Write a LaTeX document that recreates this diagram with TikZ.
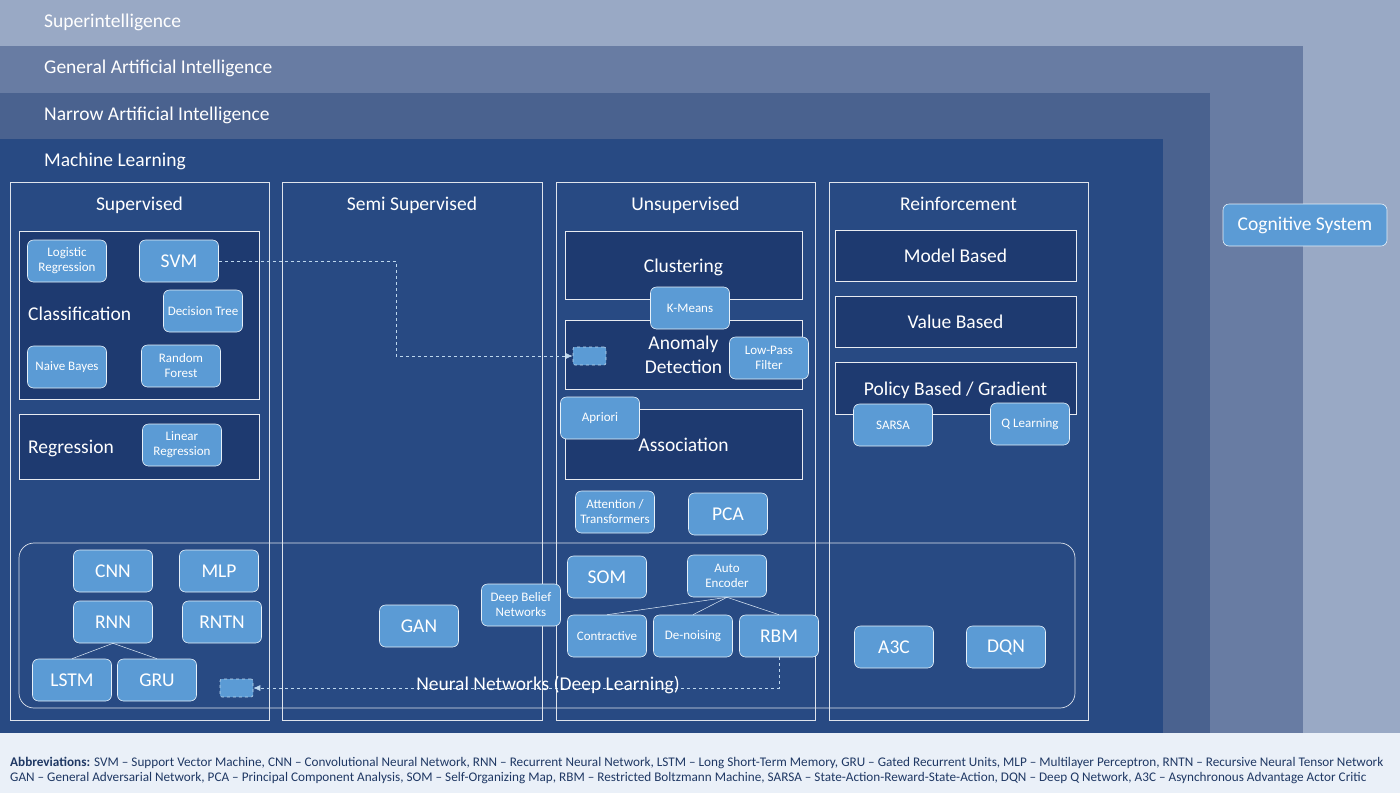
\documentclass[tikz,border=0pt]{standalone}
\usepackage{fontspec}
\setmainfont{Carlito}
\usetikzlibrary{positioning,arrows.meta}

\definecolor{superbg}{HTML}{99A9C5}
\definecolor{generalbg}{HTML}{687CA3}
\definecolor{narrowbg}{HTML}{4A628F}
\definecolor{mlbg}{HTML}{284A83}
\definecolor{boxbg}{HTML}{1E3A70}
\definecolor{algoblue}{HTML}{5B9BD5}
\definecolor{abbrbg}{HTML}{EAF0F8}
\definecolor{abbrtext}{HTML}{1F3864}
\definecolor{linkblue}{HTML}{BDD7EE}

\tikzset{
    bigfont/.style={font=\fontsize{19.5}{24}\selectfont},
    algo/.style={draw=white!85!algoblue, line width=0.6pt, fill=algoblue, rounded corners=6pt,
        minimum width=79pt, minimum height=42pt, inner sep=1pt, align=center, text=white,
        font=\fontsize{13}{15}\selectfont},
    algobig/.style={algo, bigfont},
    slot/.style={draw=linkblue, dashed, line width=0.6pt, fill=algoblue, rounded corners=2pt,
        minimum width=33pt, minimum height=18pt, inner sep=0pt},
    grouplabel/.style={text=white, bigfont, inner sep=0pt},
    column/.style={draw=white!85!mlbg, line width=0.7pt, fill=mlbg},
    groupbox/.style={draw=white!90!boxbg, line width=0.7pt, fill=boxbg},
    branch/.style={draw=white!80!algoblue, line width=0.5pt},
    link/.style={draw=linkblue, dashed, line width=0.7pt, -{Latex[length=7pt,width=6pt]}},
}

\begin{document}
\begin{tikzpicture}[x=1pt,y=-1pt]
    \useasboundingbox (0,0) rectangle (1400,793);

    % nested bands
    \fill[superbg] (0,0) rectangle (1400,733);
    \fill[generalbg] (0,46) rectangle (1303,733);
    \fill[narrowbg] (0,93) rectangle (1210,733);
    \fill[mlbg] (0,139) rectangle (1163,733);
    \fill[abbrbg] (0,733) rectangle (1400,793);

    \node[grouplabel, anchor=base west] (super)   at (44,27)  {Superintelligence};
    \node[grouplabel, anchor=base west] (general) at (44,73)  {General Artificial Intelligence};
    \node[grouplabel, anchor=base west] (narrow)  at (44,120) {Narrow Artificial Intelligence};
    \node[grouplabel, anchor=base west] (ml)      at (44,166) {Machine Learning};

    \node[algobig, minimum width=164pt] (cognitive) at (1305,225) {Cognitive System};

    % columns
    \draw[column] (10,182) rectangle (269,720);
    \draw[column] (282,182) rectangle (542,720);
    \draw[column] (556,182) rectangle (815,720);
    \draw[column] (829,182) rectangle (1088,720);

    \node[grouplabel, anchor=base] (supervised) at (139.5,210) {Supervised};
    \node[grouplabel, anchor=base] (semi)       at (412,210)   {Semi Supervised};
    \node[grouplabel, anchor=base] (unsup)      at (685.5,210) {Unsupervised};
    \node[grouplabel, anchor=base] (reinf)      at (958.5,210) {Reinforcement};

    % supervised
    \draw[groupbox] (19,231) rectangle (259,399);
    \node[grouplabel, anchor=base west] (classif) at (28,320) {Classification};
    \node[algo]    (logreg)  at (67,261)  {Logistic\\Regression};
    \node[algobig] (svm)     at (179,261) {SVM};
    \node[algo]    (dtree)   at (203,311) {Decision Tree};
    \node[algo]    (bayes)   at (67,367)  {Naive Bayes};
    \node[algo]    (forest)  at (181,366) {Random\\Forest};

    \draw[groupbox] (19,414) rectangle (259,479);
    \node[grouplabel, anchor=base west] (regress) at (28,453) {Regression};
    \node[algo]    (linreg)  at (182,445) {Linear\\Regression};

    % unsupervised
    \draw[groupbox] (565,231) rectangle (802,299);
    \node[grouplabel, anchor=base] (cluster) at (683.5,272) {Clustering};
    \draw[groupbox] (565,320) rectangle (802,389);
    \node[grouplabel, align=center] (anomaly) at (683.5,355) {Anomaly\\Detection};
    \draw[groupbox] (565,409) rectangle (802,479);
    \node[grouplabel, anchor=base] (assoc) at (683.5,451) {Association};

    \node[algo]    (kmeans)  at (690,308) {K-Means};
    \node[algo]    (lowpass) at (769,358) {Low-Pass\\Filter};
    \node[slot]    (anomslot) at (589.5,356) {};
    \node[algo]    (apriori) at (600,418) {Apriori};
    \node[algo]    (attn)    at (615,512) {Attention /\\Transformers};
    \node[algobig] (pca)     at (728,514) {PCA};

    % reinforcement
    \draw[groupbox] (835,230) rectangle (1076,281);
    \node[grouplabel] (model) at (955.5,255.5) {Model Based};
    \draw[groupbox] (835,296) rectangle (1076,347);
    \node[grouplabel] (value) at (955.5,321.5) {Value Based};
    \draw[groupbox] (835,362) rectangle (1076,414);
    \node[grouplabel, anchor=base] (policy) at (955.5,395) {Policy Based / Gradient};
    \node[algo]    (sarsa)   at (893,425)  {SARSA};
    \node[algo]    (qlearn)  at (1030,424) {Q Learning};

    % neural networks
    \draw[draw=white!85!mlbg, line width=0.7pt, rounded corners=15pt] (19,543) rectangle (1075,708);

    \node[algobig] (cnn)  at (113,571) {CNN};
    \node[algobig] (mlp)  at (219,571) {MLP};
    \node[algobig] (rnn)  at (113,622) {RNN};
    \node[algobig] (rntn) at (222,622) {RNTN};
    \node[algobig] (lstm) at (72,680)  {LSTM};
    \node[algobig] (gru)  at (157,680) {GRU};
    \node[slot]    (nnslot) at (236.5,688) {};

    \node[algobig] (gan)    at (419,626) {GAN};
    \node[algo]    (dbn)    at (521,605) {Deep Belief\\Networks};
    \node[algobig] (som)    at (607,577) {SOM};
    \node[algo]    (autoenc) at (727,576) {Auto\\Encoder};
    \node[algo]    (contract) at (607,636) {Contractive};
    \node[algo]    (denoise) at (693,636) {De-noising};
    \node[algobig] (rbm)    at (779,636) {RBM};
    \node[algobig] (athreec) at (894,647) {A3C};
    \node[algobig] (dqn)    at (1006,647) {DQN};

    \draw[branch] (rnn.south) -- (lstm.north);
    \draw[branch] (rnn.south) -- (gru.north);
    \draw[branch] (autoenc.south) -- (contract.north);
    \draw[branch] (autoenc.south) -- (denoise.north);
    \draw[branch] (autoenc.south) -- (rbm.north);

    % dashed links
    \coordinate (svmbend) at (396,356);
    \draw[link] (svm.east) -| (svmbend) -- (anomslot.west);
    \draw[link] (rbm.south) |- (nnslot.east);

    \node[grouplabel] (nnlabel) at (548,685) {Neural Networks (Deep Learning)};

    % abbreviations
    \node[anchor=base west, align=left, inner sep=0pt, text=abbrtext,
        font=\fontsize{13.2}{15}\selectfont] (abbr) at (10,781)
        {\textbf{Abbreviations:} SVM -- Support Vector Machine, CNN -- Convolutional Neural Network, RNN -- Recurrent Neural Network, LSTM -- Long Short-Term Memory, GRU -- Gated Recurrent Units, MLP -- Multilayer Perceptron, RNTN -- Recursive Neural Tensor Network\\
        GAN -- General Adversarial Network, PCA -- Principal Component Analysis, SOM -- Self-Organizing Map, RBM -- Restricted Boltzmann Machine, SARSA -- State-Action-Reward-State-Action, DQN -- Deep Q Network, A3C -- Asynchronous Advantage Actor Critic};
\end{tikzpicture}
\end{document}
